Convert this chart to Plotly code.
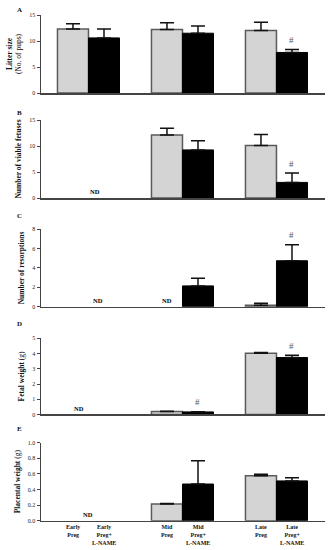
import plotly.graph_objects as go

groups = [0, 1, 2]
x_labels = ["Early<br>Preg", "Early<br>Preg+<br>L-NAME", "Mid<br>Preg", "Mid<br>Preg+<br>L-NAME",
            "Late<br>Preg", "Late<br>Preg+<br>L-NAME"]

# Panel data: control (Preg) and L-NAME means and SEM (None = not determined)
litter_ctrl = [12.3, 12.2, 12.0]
litter_ctrl_err = [1.0, 1.3, 1.6]
litter_lname = [10.6, 11.5, 7.8]
litter_lname_err = [1.7, 1.4, 0.55]

viable_ctrl = [None, 12.1, 10.1]
viable_ctrl_err = [None, 1.3, 2.1]
viable_lname = [None, 9.25, 3.0]
viable_lname_err = [None, 1.75, 1.8]

resorp_ctrl = [None, None, 0.15]
resorp_ctrl_err = [None, None, 0.2]
resorp_lname = [None, 2.15, 4.75]
resorp_lname_err = [None, 0.8, 1.65]

fetal_ctrl = [None, 0.2, 4.02]
fetal_ctrl_err = [None, 0.01, 0.04]
fetal_lname = [None, 0.17, 3.74]
fetal_lname_err = [None, 0.01, 0.14]

plac_ctrl = [None, 0.214, 0.577]
plac_ctrl_err = [None, 0.006, 0.017]
plac_lname = [None, 0.47, 0.51]
plac_lname_err = [None, 0.30, 0.042]

H = 550
panels = [
    dict(letter="A", title="<b>Litter size</b><br>(No. of pups)", rng=[0, 15], dtick=5, fmt="",
         c=litter_ctrl, ce=litter_ctrl_err, l=litter_lname, le=litter_lname_err,
         dom=[0.8309, 0.9727], lab_px=10, hashes=[(2, 1)], nd=[]),
    dict(letter="B", title="<b>Number of viable fetuses</b>", rng=[0, 15], dtick=5, fmt="",
         c=viable_ctrl, ce=viable_ctrl_err, l=viable_lname, le=viable_lname_err,
         dom=[0.64, 0.7818], lab_px=113, hashes=[(2, 1)], nd=[0.07]),
    dict(letter="C", title="<b>Number of resorptions</b>", rng=[0, 8], dtick=2, fmt="",
         c=resorp_ctrl, ce=resorp_ctrl_err, l=resorp_lname, le=resorp_lname_err,
         dom=[0.4424, 0.5831], lab_px=216, hashes=[(2, 1)], nd=[0.1, 0.83]),
    dict(letter="D", title="<b>Fetal weight</b> (g)", rng=[0, 5], dtick=1, fmt="",
         c=fetal_ctrl, ce=fetal_ctrl_err, l=fetal_lname, le=fetal_lname_err,
         dom=[0.2464, 0.3849], lab_px=324, hashes=[(2, 1), (1, 1)], nd=[-0.1]),
    dict(letter="E", title="<b>Placental weight</b> (g)", rng=[0, 1.0], dtick=0.2, fmt=".1f",
         c=plac_ctrl, ce=plac_ctrl_err, l=plac_lname, le=plac_lname_err,
         dom=[0.0533, 0.1951], lab_px=429, hashes=[], nd=[0.0]),
]

SERIF = "Liberation Serif, Times New Roman, serif"
fig = go.Figure()
annotations = []
half = 0.165

for i, p in enumerate(panels):
    n = i + 1
    xa = "x" if n == 1 else f"x{n}"
    ya = "y" if n == 1 else f"y{n}"
    fig.add_trace(go.Bar(x=groups, y=p["c"], xaxis=xa, yaxis=ya, name="Preg",
                         marker=dict(color="#d4d4d4", line=dict(color="#5a5a5a", width=1.5)),
                         error_y=dict(type="data", array=p["ce"], arrayminus=[0, 0, 0], symmetric=False,
                                      color="#111", thickness=1.5, width=7),
                         showlegend=False, hoverinfo="skip"))
    fig.add_trace(go.Bar(x=groups, y=p["l"], xaxis=xa, yaxis=ya, name="Preg+L-NAME",
                         marker=dict(color="#000000", line=dict(color="#000000", width=1)),
                         error_y=dict(type="data", array=p["le"], arrayminus=[0, 0, 0], symmetric=False,
                                      color="#111", thickness=1.5, width=7),
                         showlegend=False, hoverinfo="skip"))
    ax_x = dict(domain=[0.1228, 0.973], range=[-0.505, 2.516], showticklabels=False, ticks="",
                showgrid=False, zeroline=False, showline=True, linecolor="#444", linewidth=1.5,
                fixedrange=True, automargin=False)
    if n > 1:
        ax_x["anchor"] = ya
    ax_y = dict(domain=p["dom"], range=p["rng"], dtick=p["dtick"], tick0=0, showgrid=False,
                zeroline=False, showline=True, linecolor="#444", linewidth=1.5, ticks="outside",
                ticklen=3, tickwidth=1, tickcolor="#444", tickformat=p["fmt"], automargin=False,
                fixedrange=True,
                tickfont=dict(family=SERIF, size=6, color="#222"),
                title=dict(text=p["title"], font=dict(family=SERIF, size=7.5, color="#111"), standoff=6))
    if n > 1:
        ax_y["anchor"] = xa
    fig.layout[("xaxis" if n == 1 else f"xaxis{n}")] = ax_x
    fig.layout[("yaxis" if n == 1 else f"yaxis{n}")] = ax_y

    annotations.append(dict(text=f"<b>{p['letter']}</b>", xref="paper", yref="paper",
                            x=0.057, y=1 - p["lab_px"] / H, xanchor="center", yanchor="middle",
                            showarrow=False, font=dict(family=SERIF, size=7, color="#111")))
    span = p["rng"][1] - p["rng"][0]
    for g, side in p["hashes"]:
        vals = p["l"] if side == 1 else p["c"]
        errs = p["le"] if side == 1 else p["ce"]
        xpos = g + (half if side == 1 else -half)
        annotations.append(dict(text="#", xref=xa, yref=ya, x=xpos, y=vals[g] + errs[g] + span * 0.03,
                                xanchor="center", yanchor="bottom", showarrow=False,
                                font=dict(family=SERIF, size=9, color="#555")))
    for gx in p["nd"]:
        annotations.append(dict(text="<b>ND</b>", xref=xa, yref=ya, x=gx, y=span * 0.01,
                                xanchor="center", yanchor="bottom", showarrow=False,
                                font=dict(family=SERIF, size=6.5, color="#000000")))

# x category labels under panel E
for k, lab in enumerate(x_labels):
    g = k // 2
    xpos = g + (half if k % 2 else -half)
    annotations.append(dict(text=f"<b>{lab}</b>", xref="x5", yref="paper", x=xpos, y=1 - 522 / H,
                            xanchor="center", yanchor="top", showarrow=False, align="center",
                            font=dict(family=SERIF, size=6, color="#111")))

fig.update_layout(width=334, height=H, margin=dict(l=0, r=0, t=0, b=0),
                  plot_bgcolor="white", paper_bgcolor="white",
                  barmode="group", bargap=0.34, bargroupgap=0.0,
                  annotations=annotations, showlegend=False, hovermode=False)

fig.write_html("out.html", config={"displayModeBar": False, "staticPlot": True},
               post_script="document.body.style.margin='0';document.body.style.overflow='hidden';")
